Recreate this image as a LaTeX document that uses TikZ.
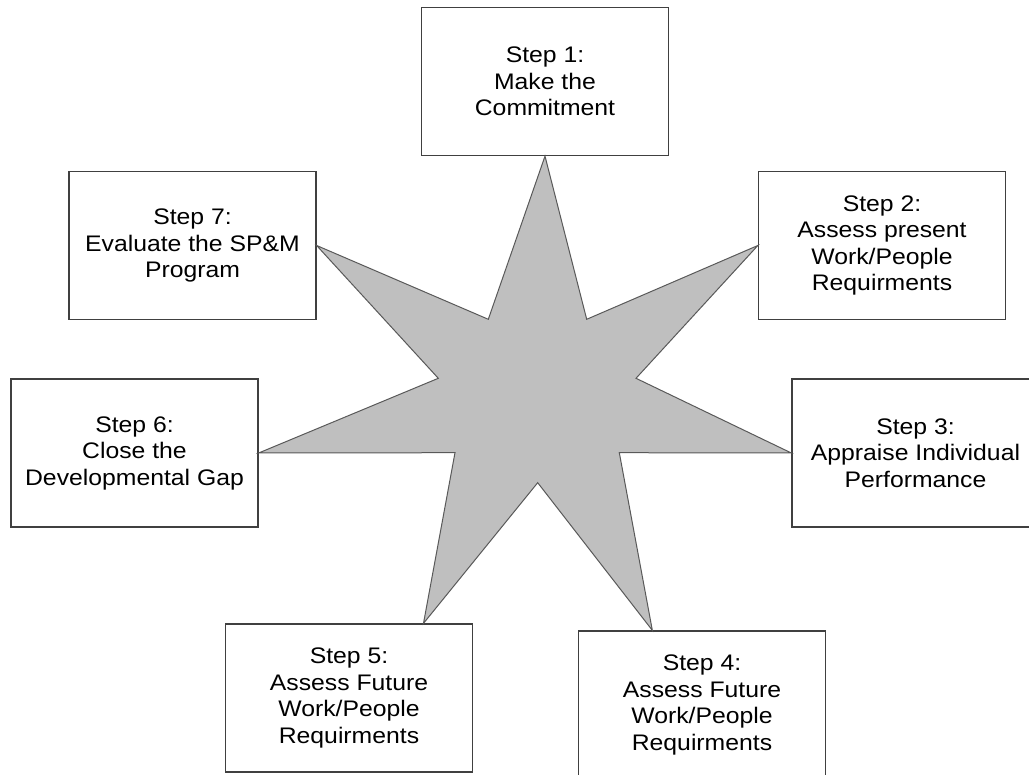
\documentclass[tikz,border=0pt]{standalone}
\usepackage{fontspec}
\setmainfont[FakeStretch=1.1]{Liberation Sans}
\usetikzlibrary{calc}

\begin{document}
\begin{tikzpicture}[
    x=1pt, y=-1pt,
    box/.style={draw=black!75, line width=1.3pt, fill=white, minimum width=247pt, minimum height=148pt,
        align=center, font=\fontsize{22.5}{26.5}\selectfont, inner sep=0pt},
    starshape/.style={draw=black!65, line width=1pt, fill=black!25, line join=miter}
]

    % Page frame (boxes 3 and 4 run off the page edge)
    \path[use as bounding box, clip] (0,0) rectangle (1029,775);

    % Step boxes
    \node[box] (s1) at (545,81.5) {Step 1:\\Make the\\Commitment};
    \node[box] (s2) at (882,245.5) {Step 2:\\Assess present\\Work/People\\Requirments};
    \node[box] (s3) at (915.5,453) {Step 3:\\Appraise Individual\\Performance};
    \node[box] (s4) at (702,705) {Step 4:\\Assess Future\\Work/People\\Requirments};
    \node[box] (s5) at (349,698) {Step 5:\\Assess Future\\Work/People\\Requirments};
    \node[box] (s6) at (134.5,453) {Step 6:\\Close the\\Developmental Gap};
    \node[box] (s7) at (192.5,245.5) {Step 7:\\Evaluate the SP\&M\\Program};

    % Star tips touch the boxes
    \coordinate (t1) at (s1.south);
    \coordinate (t2) at (s2.west);
    \coordinate (t3) at (s3.west);
    \coordinate (t4) at ($(s4.north west)!0.3!(s4.north east)$);
    \coordinate (t5) at ($(s5.north west)!0.8!(s5.north east)$);
    \coordinate (t6) at (s6.east);
    \coordinate (t7) at (s7.east);

    % Inner corners of the star
    \coordinate (i1) at (586.7,319.3);
    \coordinate (i2) at (636,378.3);
    \coordinate (i3) at (619.3,452.7);
    \coordinate (i4) at (537.7,482.7);
    \coordinate (i5) at (455,452.7);
    \coordinate (i6) at (438.3,378.3);
    \coordinate (i7) at (488.3,319.3);

    % Seven-pointed star
    \draw[starshape] (t1) -- (i1) -- (t2) -- (i2) -- (t3) -- (i3) -- (t4) -- (i4)
        -- (t5) -- (i5) -- (t6) -- (i6) -- (t7) -- (i7) -- cycle;

\end{tikzpicture}
\end{document}
